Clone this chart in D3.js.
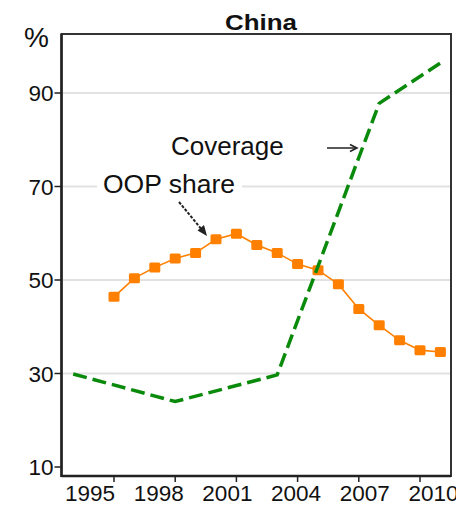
<!DOCTYPE html>
<html>
<head>
<meta charset="utf-8">
<script src="https://cdn.jsdelivr.net/npm/d3@7"></script>
<style>
    body { margin: 0; background: #fff; }
    svg { display: block; font-family: Arial, "Liberation Sans", sans-serif; }
</style>
</head>
<body>
<div id="chart"></div>
<script>
const oopYears = [1995, 1996, 1997, 1998, 1999, 2000, 2001, 2002, 2003, 2004, 2005, 2006, 2007, 2008, 2009, 2010, 2011];
const oopShare = [46.4, 50.4, 52.7, 54.6, 55.8, 58.7, 59.9, 57.5, 55.8, 53.4, 52.1, 49.1, 43.8, 40.3, 37.1, 35.0, 34.6];

const coverageYears = [1993, 1998, 2003, 2008, 2011];
const coverage = [29.9, 24.0, 29.7, 87.8, 96.4];

const xTicks = [1995, 1998, 2001, 2004, 2007, 2010];
const yTicks = [10, 30, 50, 70, 90];
const gridTicks = [30, 50, 70, 90];

const width = 456;
const height = 506;
const frame = { left: 61.5, right: 451, top: 34, bottom: 476 };

const svg = d3.select("#chart")
    .append("svg")
    .attr("width", width)
    .attr("height", height);

const x = d3.scaleLinear()
    .domain([1995, 2010])
    .range([114, 420]);

// the year labels sit on a wider spacing than the tick marks in the original
const xLabel = d3.scaleLinear()
    .domain([1995, 2010])
    .range([90, 433.5]);

const y = d3.scaleLinear()
    .domain([10, 90])
    .range([467, 93]);

// gridlines
svg.append("g")
    .selectAll("line")
    .data(gridTicks)
    .enter()
    .append("line")
    .attr("x1", frame.left)
    .attr("x2", frame.right)
    .attr("y1", d => y(d))
    .attr("y2", d => y(d))
    .attr("stroke", "#e2e2e2")
    .attr("stroke-width", 2);

// frame
svg.append("rect")
    .attr("x", frame.left)
    .attr("y", frame.top)
    .attr("width", frame.right - frame.left)
    .attr("height", frame.bottom - frame.top)
    .attr("fill", "none")
    .attr("stroke", "#333")
    .attr("stroke-width", 2);

svg.append("line")
    .attr("x1", frame.left).attr("x2", frame.left)
    .attr("y1", frame.top).attr("y2", frame.bottom + 1)
    .attr("stroke", "#222")
    .attr("stroke-width", 2.5);

svg.append("line")
    .attr("x1", frame.left).attr("x2", frame.right)
    .attr("y1", frame.bottom).attr("y2", frame.bottom)
    .attr("stroke", "#222")
    .attr("stroke-width", 2.5);

// y axis ticks and labels
const yAxis = svg.append("g");
yAxis.selectAll("line")
    .data(yTicks)
    .enter()
    .append("line")
    .attr("x1", frame.left - 7)
    .attr("x2", frame.left)
    .attr("y1", d => y(d))
    .attr("y2", d => y(d))
    .attr("stroke", "#222")
    .attr("stroke-width", 1.5);

yAxis.selectAll("text")
    .data(yTicks)
    .enter()
    .append("text")
    .attr("x", 53.5)
    .attr("y", d => y(d) + 8)
    .attr("text-anchor", "end")
    .style("font-size", "22.5px")
    .style("fill", "#111")
    .text(d => d);

svg.append("text")
    .attr("x", 24)
    .attr("y", 47)
    .style("font-size", "28px")
    .style("fill", "#111")
    .text("%");

// x axis ticks and labels
const xAxis = svg.append("g");
xAxis.selectAll("line")
    .data(xTicks)
    .enter()
    .append("line")
    .attr("x1", d => x(d))
    .attr("x2", d => x(d))
    .attr("y1", frame.bottom)
    .attr("y2", frame.bottom + 6)
    .attr("stroke", "#222")
    .attr("stroke-width", 1.5);

xAxis.selectAll("text")
    .data(xTicks)
    .enter()
    .append("text")
    .attr("x", d => xLabel(d))
    .attr("y", 501)
    .attr("text-anchor", "middle")
    .style("font-size", "22.5px")
    .style("fill", "#111")
    .text(d => d);

// title
svg.append("text")
    .attr("x", 225)
    .attr("y", 29.5)
    .attr("textLength", 72)
    .attr("lengthAdjust", "spacingAndGlyphs")
    .style("font-size", "22px")
    .style("font-weight", "bold")
    .style("fill", "#111")
    .text("China");

// coverage line
const covData = coverageYears.map((yr, i) => ({ year: yr, value: coverage[i] }));
const oopData = oopYears.map((yr, i) => ({ year: yr, value: oopShare[i] }));

const line = d3.line()
    .x(d => x(d.year))
    .y(d => y(d.value));

svg.append("path")
    .datum(oopData)
    .attr("fill", "none")
    .attr("stroke", "#ff8000")
    .attr("stroke-width", 1.6)
    .attr("d", line);

svg.append("g")
    .selectAll("rect")
    .data(oopData)
    .enter()
    .append("rect")
    .attr("x", d => x(d.year) - 5.5)
    .attr("y", d => y(d.value) - 5)
    .attr("width", 11)
    .attr("height", 10)
    .attr("rx", 1.5)
    .attr("fill", "#ff8000");

svg.append("path")
    .datum(covData)
    .attr("fill", "none")
    .attr("stroke", "#0a8a0a")
    .attr("stroke-width", 3.5)
    .attr("stroke-dasharray", "14 6")
    .attr("d", line);

// annotations
const oopLabel = svg.append("g");
oopLabel.append("rect")
    .attr("x", 97)
    .attr("y", 172)
    .attr("width", 145)
    .attr("height", 26)
    .attr("fill", "#fff");
oopLabel.append("text")
    .attr("x", 103)
    .attr("y", 193)
    .style("font-size", "26.5px")
    .style("fill", "#111")
    .text("OOP share");

svg.append("text")
    .attr("x", 171)
    .attr("y", 155)
    .style("font-size", "26px")
    .style("fill", "#111")
    .text("Coverage");

svg.append("line")
    .attr("x1", 327).attr("x2", 356)
    .attr("y1", 148).attr("y2", 148)
    .attr("stroke", "#222")
    .attr("stroke-width", 1.5);
svg.append("path")
    .attr("d", "M350,144.5 L357,148 L350,151.5")
    .attr("fill", "none")
    .attr("stroke", "#222")
    .attr("stroke-width", 1.5);

svg.append("line")
    .attr("x1", 179).attr("x2", 203)
    .attr("y1", 202).attr("y2", 231)
    .attr("stroke", "#222")
    .attr("stroke-width", 2)
    .attr("stroke-dasharray", "3 1.5");
svg.append("path")
    .attr("d", "M207,236 L197.5,230.5 L204,225 Z")
    .attr("fill", "#222");
</script>
</body>
</html>
